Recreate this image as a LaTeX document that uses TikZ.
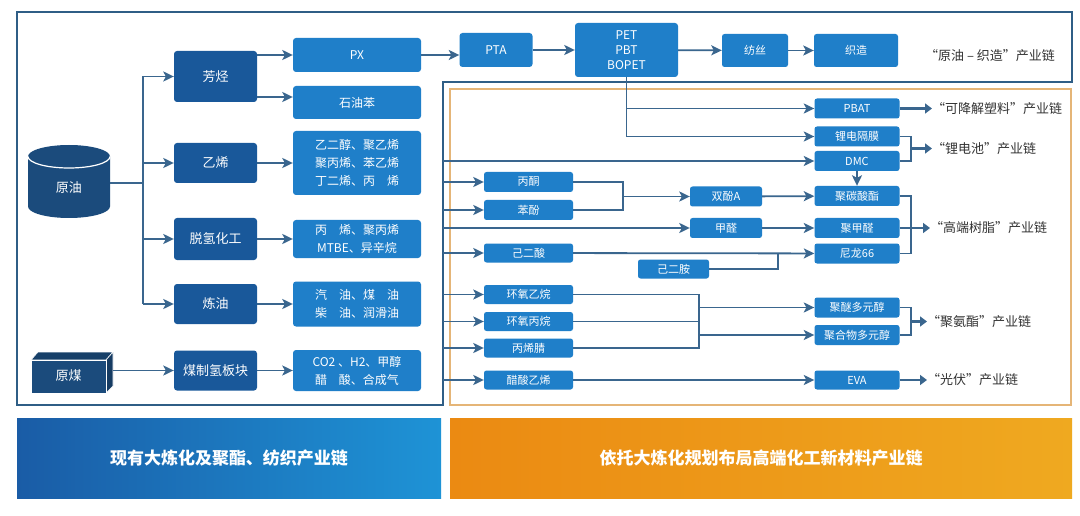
\documentclass[tikz,border=0pt]{standalone}
\usepackage{fontspec}
\setmainfont{Noto Sans CJK SC}
\usetikzlibrary{arrows.meta,calc}
\definecolor{navy}{HTML}{1B4B7C}
\definecolor{dblue}{HTML}{19589A}
\definecolor{lblue}{HTML}{1F7FC9}
\definecolor{wirec}{HTML}{3A668E}
\definecolor{frameb}{HTML}{2F5E86}
\definecolor{frameo}{HTML}{E5B577}
\definecolor{ink}{HTML}{333333}
\definecolor{bla}{HTML}{1A5CA6}
\definecolor{blb}{HTML}{1E93D6}
\definecolor{ora}{HTML}{EB8A12}
\definecolor{orb}{HTML}{EFA920}
\tikzset{
  dbox/.style={fill=dblue,text=white,rounded corners=3pt,minimum width=83pt,inner sep=0pt,font=\fontsize{13}{15}\selectfont},
  lbox/.style={fill=lblue,text=white,rounded corners=3pt,minimum width=128pt,inner sep=0pt,align=center,font=\fontsize{12}{18}\selectfont},
  sbox/.style={fill=lblue,text=white,rounded corners=2.5pt,inner sep=0pt,minimum height=20pt,font=\fontsize{11}{13}\selectfont},
  chain/.style={text=ink,anchor=west,inner sep=0pt,font=\fontsize{13}{15}\selectfont},
  banner/.style={text=white,minimum height=80pt,inner sep=0pt,font=\fontsize{17}{20}\selectfont\bfseries},
  wire/.style={draw=wirec,line width=1.8pt},
  arr/.style={wire,-{Stealth[length=10.5pt,width=10pt,inset=2.5pt]}},
  fat/.style={draw=wirec,line width=2.8pt,-{Triangle[length=7pt,width=10pt]}},
}
\def\wline{\draw[wire]}
\def\warr{\draw[arr]}
\def\wfat{\draw[fat]}
\begin{document}
\begin{tikzpicture}[x=1pt,y=-1pt]
\useasboundingbox (0,0) rectangle (1080,516);
\fill[white] (0,0) rectangle (1080,516);
% frames
\draw[frameb,line width=2pt] (17,12) -- (1072,12) -- (1072,82) -- (443,82) -- (443,405) -- (17,405) -- cycle;
\draw[frameo,line width=1.3pt] (450,89) rectangle (1071,405);
% crude oil drum
\fill[navy] (28,156.5) -- (28,206.5) arc[start angle=180,end angle=0,x radius=41,y radius=11.5]
  -- (110,156.5) arc[start angle=0,end angle=-180,x radius=41,y radius=11.5] -- cycle;
\draw[white,line width=1.2pt] (28,156.5) arc[start angle=180,end angle=0,x radius=41,y radius=11.5];
\node[text=white,minimum width=82pt,inner sep=0pt,font=\fontsize{13}{15}\selectfont] (oil) at (69,188) {原油};
% coal block
\filldraw[navy!85!black,draw=white,line width=.6pt] (31,360) -- (38,352) -- (113,352) -- (106,360) -- cycle;
\filldraw[navy!80!black,draw=white,line width=.6pt] (106,360) -- (113,352) -- (113,386) -- (106,393) -- cycle;
\filldraw[navy,draw=white,line width=.6pt] (31,360) rectangle (106,393);
\node[text=white,minimum width=89pt,inner sep=0pt,font=\fontsize{13}{15}\selectfont] (coal) at (68.5,376) {原煤};

% first and second column
\node[dbox,minimum height=51pt] (fang) at (215.5,76.5) {芳烃};
\node[dbox,minimum height=40pt] (yix)  at (215.5,163) {乙烯};
\node[dbox,minimum height=42pt] (tuoq) at (215.5,239) {脱氢化工};
\node[dbox,minimum height=40pt] (lian) at (215.5,304) {炼油};
\node[dbox,minimum height=40pt] (meiz) at (215.5,370.5) {煤制氢板块};
\node[lbox,minimum height=34pt] (px)  at (357,55) {PX};
\node[lbox,minimum height=33pt] (syb) at (357,102.5) {石油苯};
\node[lbox,minimum height=64pt] (yec) at (357,163) {乙二醇、聚乙烯\\聚丙烯、苯乙烯\\丁二烯、丙\quad 烯};
\node[lbox,minimum height=38pt] (bx)  at (357,239) {丙\quad 烯、聚丙烯\\MTBE、异辛烷};
\node[lbox,minimum height=45pt] (qy)  at (357,304) {汽\quad 油、煤\quad 油\\柴\quad 油、润滑油};
\node[lbox,minimum height=41pt] (co)  at (357,370.5) {CO2 、H2、甲醇\\醋\quad 酸、合成气};

% top row
\node[lbox,minimum width=73pt,minimum height=34pt] (pta) at (496,50) {PTA};
\node[lbox,minimum width=103pt,minimum height=54pt,font=\fontsize{12}{15}\selectfont] (pet) at (626.5,50) {PET\\PBT\\BOPET};
\node[sbox,minimum width=66pt,minimum height=33pt] (fs) at (755,50.5) {纺丝};
\node[sbox,minimum width=84pt,minimum height=33pt] (zz) at (856,50.5) {织造};
\node[chain] (lab0) at (925,56) {“原油 – 织造”产业链};

% new materials
\node[sbox,minimum width=89pt] (bt)   at (528.5,182) {丙酮};
\node[sbox,minimum width=89pt] (bf)   at (528.5,210) {苯酚};
\node[sbox,minimum width=89pt,minimum height=19pt] (jes)  at (528.5,253) {己二酸};
\node[sbox,minimum width=89pt,minimum height=19pt] (hyyw) at (528.5,294.5) {环氧乙烷};
\node[sbox,minimum width=89pt,minimum height=19pt] (hybw) at (528.5,321.5) {环氧丙烷};
\node[sbox,minimum width=89pt,minimum height=19pt] (bxj)  at (528.5,348) {丙烯腈};
\node[sbox,minimum width=89pt,minimum height=19pt] (csyx) at (528.5,380) {醋酸乙烯};
\node[sbox,minimum width=72pt] (sfa) at (726,196.5) {双酚A};
\node[sbox,minimum width=72pt] (jq)  at (726,228) {甲醛};
\node[sbox,minimum width=71pt,minimum height=19pt] (jea) at (673.5,269) {己二胺};
\node[sbox,minimum width=85pt] (pbat) at (857,108.5) {PBAT};
\node[sbox,minimum width=85pt] (ldgm) at (857,136.5) {锂电隔膜};
\node[sbox,minimum width=85pt] (dmc)  at (857,161) {DMC};
\node[sbox,minimum width=85pt] (pc)   at (857,196) {聚碳酸酯};
\node[sbox,minimum width=85pt] (pom)  at (857,228) {聚甲醛};
\node[sbox,minimum width=85pt] (pa)   at (857,253.5) {尼龙66};
\node[sbox,minimum width=85pt] (ppg)  at (857,307.5) {聚醚多元醇};
\node[sbox,minimum width=85pt] (pop)  at (857,335) {聚合物多元醇};
\node[sbox,minimum width=85pt,minimum height=19pt] (eva) at (857,380) {EVA};
\node[chain] (lab1) at (932,108.5) {“可降解塑料”产业链};
\node[chain] (lab2) at (932,148.5) {“锂电池”产业链};
\node[chain] (lab3) at (930,228) {“高端树脂”产业链};
\node[chain] (lab4) at (927,321.5) {“聚氨酯”产业链};
\node[chain] (lab5) at (927,380) {“光伏”产业链};

% banners
\node[banner,minimum width=424pt,left color=bla,right color=blb] (now) at (229,458) {现有大炼化及聚酯、纺织产业链};
\node[banner,minimum width=622pt,left color=ora,right color=orb] (plan) at (761,458) {依托大炼化规划布局高端化工新材料产业链};

% connectors
\coordinate (trunk) at (143,183);
\coordinate (fr) at (443,82);
\coordinate (j1) at (623,0);
\coordinate (j2) at (778,0);
\coordinate (j5) at (699,0);
\coordinate (jr) at (911,0);
\path (syb.west) ++(0,-5.5) coordinate (sybin);
\wline (oil.east |- trunk) -- (trunk);
\wline (trunk |- fang) -- (trunk |- lian);
\foreach \n in {fang,yix,tuoq,lian} \warr (trunk |- \n) -- (\n.west);
\warr (coal.east |- meiz) -- (meiz.west);
\warr (fang.east |- px) -- (px.west);
\warr (fang.east |- sybin) -- (sybin);
\warr (yix) -- (yec);
\warr (tuoq) -- (bx);
\warr (lian) -- (qy);
\warr (meiz) -- (co);
\warr (px.east) -- (pta.west |- px.east);
\warr (pta) -- (pet);
\warr (pet) -- (fs);
\warr (fs) -- (zz);
\warr (pet.south) |- (ldgm.west);
\warr (pet.south |- pbat) -- (pbat.west);
\foreach \n in {dmc,jq} \warr (fr |- \n) -- (\n.west);
\foreach \n in {bt,bf,jes,hyyw,hybw,bxj,csyx} \warr (fr |- \n) -- (\n.west);
\wline (bt.east) -| (j1 |- bf) -- (bf.east);
\warr (j1 |- sfa) -- (sfa.west);
\warr (sfa) -- (pc);
\warr (dmc) -- (pc);
\warr (jq) -- (pom);
\warr (jes) -- (pa);
\wline (jea.east) -| (j2 |- pa);
\wline (hyyw.east) -| (j5 |- bxj) -- (bxj.east);
\wline (hybw.east) -- (j5 |- hybw);
\warr (j5 |- ppg) -- (ppg.west);
\warr (j5 |- pop) -- (pop.west);
\warr (csyx) -- (eva);
\wline (ldgm.east) -| (jr |- dmc) -- (dmc.east);
\wline (pc.east) -| (jr |- pa) -- (pa.east);
\wline (ppg.east) -| (jr |- pop) -- (pop.east);
\wfat (pbat) -- (lab1);
\wfat (jr |- lab2) -- (lab2);
\wfat (pom) -- (lab3);
\wfat (jr |- lab4) -- (lab4);
\wfat (eva) -- (lab5);
\end{tikzpicture}
\end{document}
